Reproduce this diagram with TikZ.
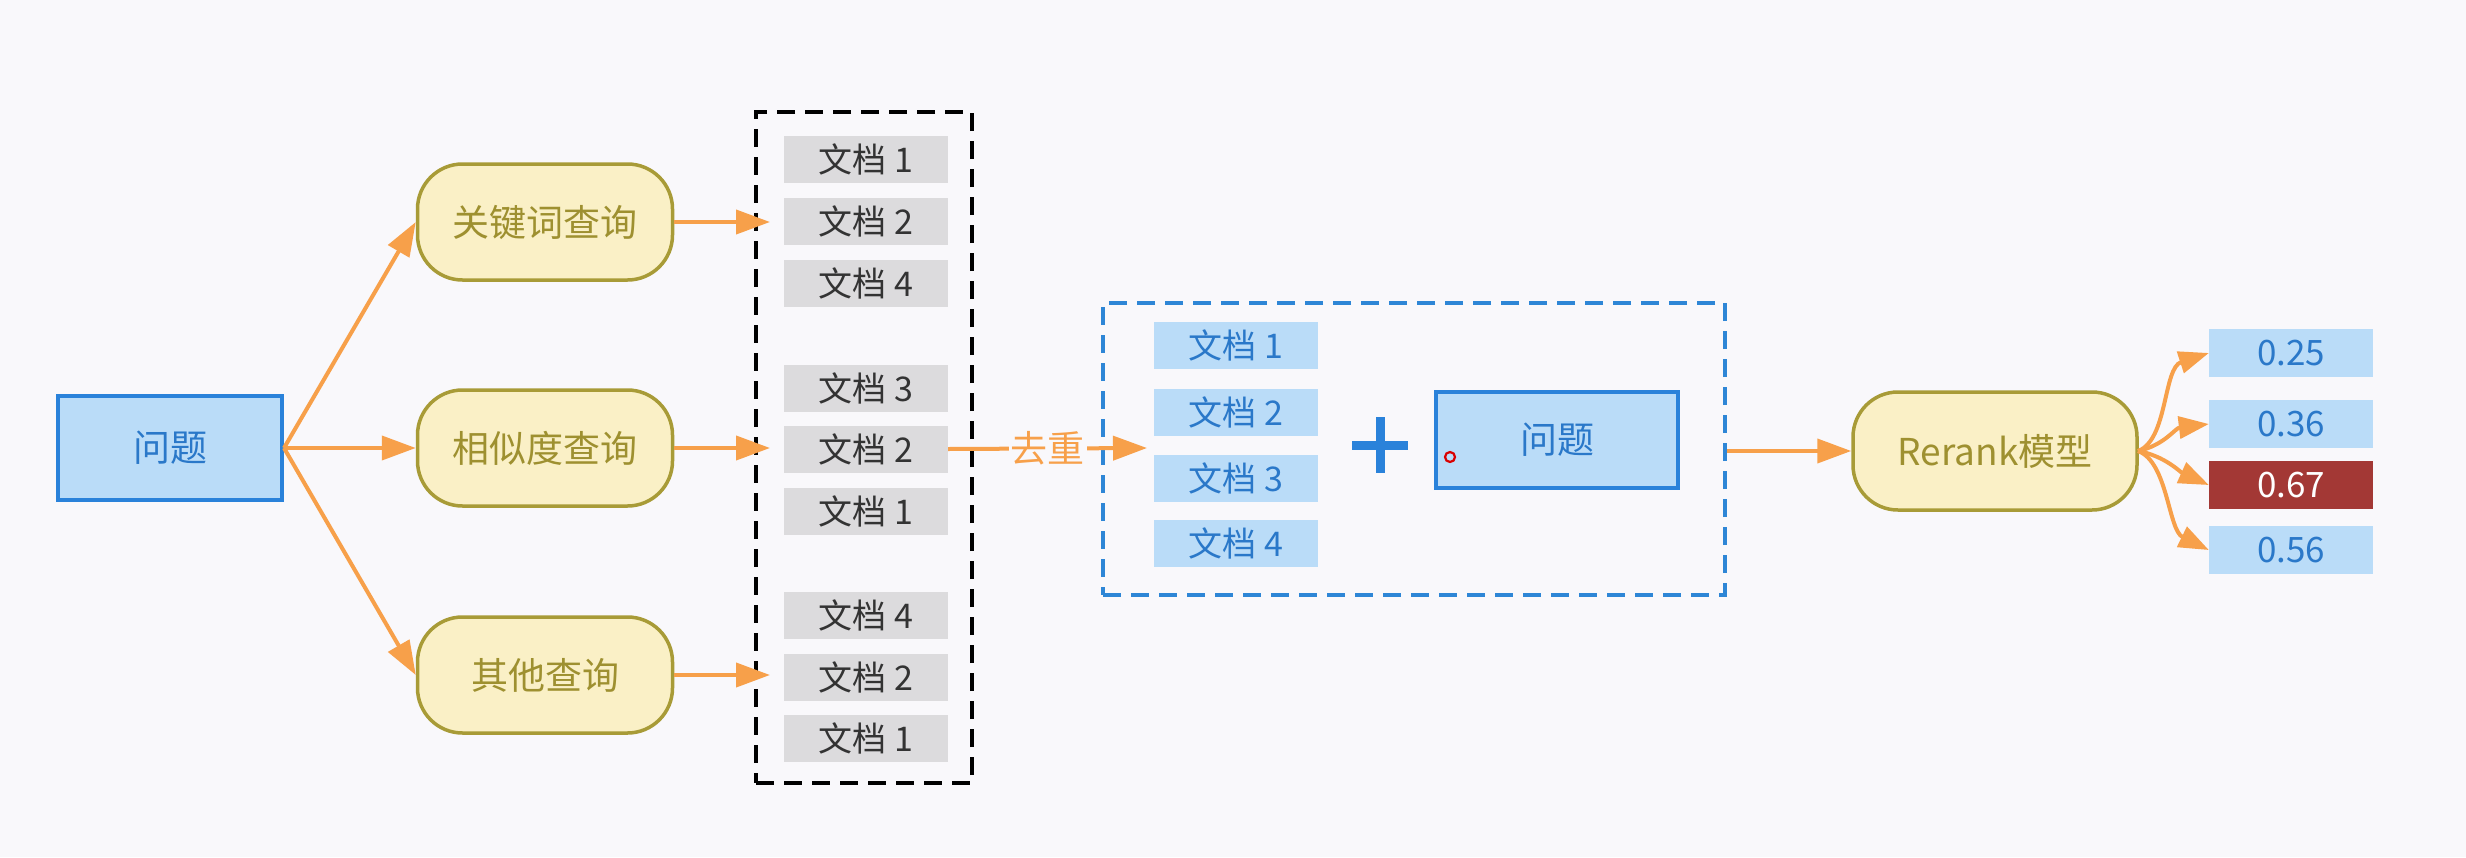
\documentclass[tikz,border=0pt]{standalone}
\usepackage{fontspec}
\setmainfont{Noto Sans CJK SC}
\usetikzlibrary{arrows.meta}
\definecolor{bg}{HTML}{F9F8FB}
\definecolor{qfill}{HTML}{BADCF8}
\definecolor{qborder}{HTML}{2A82DA}
\definecolor{qtext}{HTML}{2A78C9}
\definecolor{pfill}{HTML}{FAF0C6}
\definecolor{pborder}{HTML}{A89B37}
\definecolor{ptext}{HTML}{9E9030}
\definecolor{arrc}{HTML}{F7A04A}
\definecolor{gfill}{HTML}{DCDBDD}
\definecolor{gtext}{HTML}{333333}
\definecolor{redbox}{HTML}{A33835}
\definecolor{dashblue}{HTML}{2E86D6}
\begin{document}
\begin{tikzpicture}[x=1pt,y=-1pt,
  arr/.style={draw=arrc, line width=4pt, -{Triangle[length=34pt,width=24pt]}},
  farr/.style={draw=arrc, line width=4pt, -{Triangle[length=30pt,width=22pt]}},
  qbox/.style={draw=qborder, line width=4pt, fill=qfill, text=qtext, inner sep=0pt,
    font=\fontsize{37}{40}\selectfont},
  pill/.style={draw=pborder, line width=3.5pt, fill=pfill, rounded corners=45pt,
    minimum width=255pt, minimum height=116pt, inner sep=0pt, text=ptext,
    font=\fontsize{37}{40}\selectfont},
  gdoc/.style={fill=gfill, text=gtext, minimum width=164pt, minimum height=47pt,
    inner sep=0pt, font=\fontsize{34}{36}\selectfont},
  bdoc/.style={fill=qfill, text=qtext, minimum width=164pt, minimum height=47pt,
    inner sep=0pt, font=\fontsize{34}{36}\selectfont},
  val/.style={fill=qfill, text=qtext, minimum width=164pt, minimum height=48pt,
    inner sep=0pt, font=\fontsize{35}{38}\selectfont},
  dbox/.style={line width=4.5pt, dash pattern=on 18pt off 10pt, inner sep=0pt}
]
\useasboundingbox[fill=bg] (0,0) rectangle (2466,857);

% left question box
\node[qbox, minimum width=224pt, minimum height=104pt] (q) at (170,448) {问题};

% query pills
\node[pill] (k1) at (545,222) {关键词查询};
\node[pill] (k2) at (545,448) {相似度查询};
\node[pill] (k3) at (545,675) {其他查询};

% black dashed box
\node[dbox, draw=black, minimum width=216pt, minimum height=671pt] (db) at (864,447.5) {};

% gray docs
\node[gdoc] (a1) at (866,159) {文档 1};
\node[gdoc] (a2) at (866,221) {文档 2};
\node[gdoc] (a3) at (866,283) {文档 4};
\node[gdoc] (b1) at (866,388) {文档 3};
\node[gdoc] (b2) at (866,449) {文档 2};
\node[gdoc] (b3) at (866,511) {文档 1};
\node[gdoc] (c1) at (866,615) {文档 4};
\node[gdoc] (c2) at (866,677) {文档 2};
\node[gdoc] (c3) at (866,738) {文档 1};

% arrows q -> pills
\draw[arr] (q.east) -- (k1.west);
\draw[arr] (q.east) -- (k2.west);
\draw[arr] (q.east) -- (k3.west);

% arrows pills -> dashed box
\coordinate (t1) at (770,222);
\coordinate (t2) at (770,448);
\coordinate (t3) at (770,675);
\draw[arr] (k1.east) -- (t1);
\draw[arr] (k2.east) -- (t2);
\draw[arr] (k3.east) -- (t3);

% blue dashed box
\node[dbox, draw=dashblue, minimum width=622pt, minimum height=292pt] (bb) at (1414,449) {};
\node[bdoc] (d1) at (1236,345) {文档 1};
\node[bdoc] (d2) at (1236,412) {文档 2};
\node[bdoc] (d3) at (1236,478) {文档 3};
\node[bdoc] (d4) at (1236,543) {文档 4};

% plus sign
\draw[draw=qborder, line width=9pt] (1352,445) -- (1408,445);
\draw[draw=qborder, line width=9pt] (1380,417) -- (1380,473);

% second question box
\node[qbox, line width=3.5pt, minimum width=242pt, minimum height=96pt] (q2) at (1557,440) {问题};
\node[draw=red!85!black, line width=2.2pt, circle, minimum size=10pt, inner sep=0pt] (cur) at (1450,457) {};

% dedupe arrow
\coordinate (bin) at (1147,448);
\draw[arr] (b2.east) -- node[fill=bg, text=arrc, inner sep=2pt,
  font=\fontsize{37}{40}\selectfont] (dd) {去重} (bin);

% rerank
\node[pill, minimum width=284pt, minimum height=118pt] (rr) at (1995,451) {Rerank模型};
\draw[arr] (bb.east |- rr.west) -- (rr.west);

% values
\node[val] (v1) at (2291,353) {0.25};
\node[val] (v2) at (2291,424) {0.36};
\node[val, fill=redbox, text=white] (v3) at (2291,485) {0.67};
\node[val] (v4) at (2291,550) {0.56};

\coordinate (fo) at (2138,451);
\draw[farr] (fo) .. controls (2168,440) and (2163,368) .. (v1.west);
\draw[farr] (fo) .. controls (2165,445) and (2175,428) .. (v2.west);
\draw[farr] (fo) .. controls (2165,456) and (2180,472) .. (v3.west);
\draw[farr] (fo) .. controls (2168,462) and (2168,530) .. (v4.west);
\end{tikzpicture}
\end{document}
